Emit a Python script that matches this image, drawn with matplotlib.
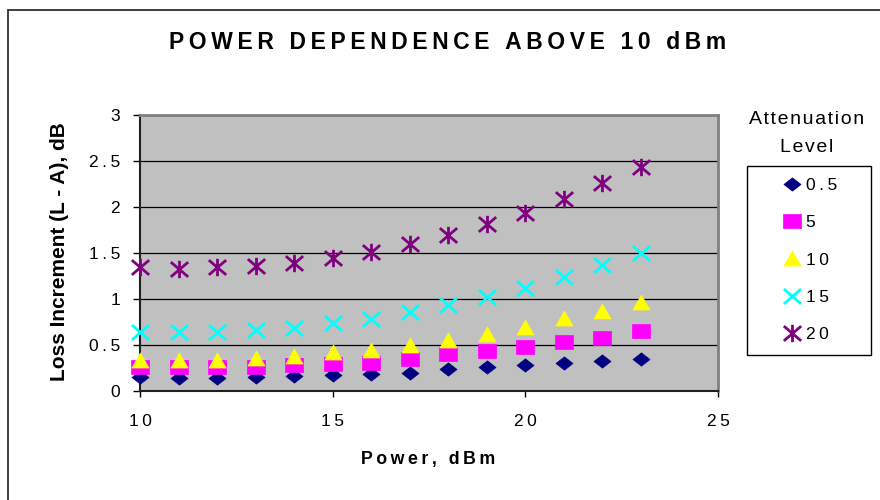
import matplotlib
matplotlib.use('Agg')
import matplotlib.pyplot as plt
from matplotlib.path import Path
from matplotlib.lines import Line2D
from matplotlib.patches import Rectangle
from matplotlib.ticker import FixedLocator, FixedFormatter

plt.rcParams['font.family'] = ['Liberation Sans', 'DejaVu Sans']

# ---------------- data ----------------
power = [10, 11, 12, 13, 14, 15, 16, 17, 18, 19, 20, 21, 22, 23]
att_0_5 = [0.15, 0.145, 0.145, 0.155, 0.16, 0.175, 0.185, 0.20, 0.24, 0.26, 0.28, 0.30, 0.33, 0.35]
att_5 = [0.26, 0.26, 0.26, 0.26, 0.28, 0.29, 0.30, 0.35, 0.40, 0.44, 0.48, 0.53, 0.58, 0.65]
att_10 = [0.34, 0.34, 0.34, 0.355, 0.38, 0.42, 0.445, 0.50, 0.555, 0.625, 0.70, 0.79, 0.875, 0.97]
att_15 = [0.645, 0.64, 0.645, 0.66, 0.69, 0.735, 0.78, 0.855, 0.93, 1.02, 1.12, 1.24, 1.37, 1.50]
att_20 = [1.345, 1.33, 1.345, 1.36, 1.395, 1.45, 1.51, 1.60, 1.70, 1.81, 1.94, 2.09, 2.26, 2.44]
series_labels = ['0.5', '5', '10', '15', '20']

x_ticks = [10, 15, 20, 25]
x_tick_labels = ['10', '15', '20', '25']
y_ticks = [0, 0.5, 1, 1.5, 2, 2.5, 3]
y_tick_labels = ['0', '0.5', '1', '1.5', '2', '2.5', '3']

title = 'POWER DEPENDENCE ABOVE 10 dBm'
xlabel = 'Power, dBm'
ylabel = 'Loss Increment (L - A), dB'
legend_title = ['Attenuation', 'Level']

# ---------------- helpers ----------------
THIN = '\u2009'
HAIR = '\u200a'


def track(s, sep=THIN):
    return sep.join(s)


def closed(verts):
    return Path(verts + [verts[0]], [Path.MOVETO] + [Path.LINETO] * (len(verts) - 1) + [Path.CLOSEPOLY])


diamond = closed([(0, 0.78), (1, 0), (0, -0.78), (-1, 0)])
square = closed([(-1, -0.82), (1, -0.82), (1, 0.82), (-1, 0.82)])
triangle = closed([(0, 0.88), (1, -0.88), (-1, -0.88)])
xmark = Path([(-1, -0.88), (1, 0.88), (-1, 0.88), (1, -0.88)],
             [Path.MOVETO, Path.LINETO, Path.MOVETO, Path.LINETO])
star = Path([(-1, -0.85), (1, 0.85), (-1, 0.85), (1, -0.85), (0, -1.0), (0, 1.0)],
            [Path.MOVETO, Path.LINETO, Path.MOVETO, Path.LINETO, Path.MOVETO, Path.LINETO])

styles = [
    dict(marker=diamond, color='#000080', mfc='#000080', mec='#000080', ms=12.3, mew=0.5),
    dict(marker=square, color='#FF00FF', mfc='#FF00FF', mec='#FF00FF', ms=12.3, mew=0.5),
    dict(marker=triangle, color='#FFFF00', mfc='#FFFF00', mec='#FFFF00', ms=12.3, mew=0.5),
    dict(marker=xmark, color='#00FFFF', mfc='none', mec='#00FFFF', ms=12.3, mew=2.0),
    dict(marker=star, color='#800080', mfc='none', mec='#800080', ms=12.5, mew=2.0),
]
all_series = [att_0_5, att_5, att_10, att_15, att_20]

# ---------------- figure ----------------
W, H = 880, 500
fig = plt.figure(figsize=(W / 100, H / 100), dpi=100)
fig.patch.set_facecolor('white')

# outer chart border (left and top visible)
fig.add_artist(Rectangle((8 / W, -0.1), 1.2, (H - 10) / H + 0.1, transform=fig.transFigure,
                         fill=False, ec='#303030', lw=1.3))

ax = fig.add_axes([140 / W, 109 / H, 578 / W, 276 / H])
ax.set_facecolor('#C0C0C0')
ax.set_xlim(10, 25)
ax.set_ylim(0, 3)
ax.yaxis.grid(True, color='black', lw=0.9)
ax.set_axisbelow(True)

for vals, st in zip(all_series, styles):
    ax.plot(power, vals, linestyle='none', clip_on=False, zorder=3, **st)

for side in ['top', 'right']:
    ax.spines[side].set_color('#808080')
    ax.spines[side].set_linewidth(2.0)
for side in ['left', 'bottom']:
    ax.spines[side].set_color('#202020')
    ax.spines[side].set_linewidth(1.5)

ax.xaxis.set_major_locator(FixedLocator(x_ticks))
ax.xaxis.set_major_formatter(FixedFormatter([track(t) for t in x_tick_labels]))
ax.yaxis.set_major_locator(FixedLocator(y_ticks))
ax.yaxis.set_major_formatter(FixedFormatter([track(t) for t in y_tick_labels]))
ax.tick_params(axis='x', direction='out', length=4.5, width=1, color='black', pad=12, labelsize=12.5)
ax.tick_params(axis='y', direction='out', length=5, width=1, color='black', pad=9.4, labelsize=12.5)

ax.set_xlabel(track(xlabel), fontsize=12.8, fontweight='bold', va='top')
ax.xaxis.set_label_coords(0.498, -0.2174)
ax.set_ylabel(ylabel, fontsize=15, fontweight='bold')
ax.yaxis.set_label_coords(-0.122, 0.505)

fig.text(447.5 / W, (H - 49.3) / H, track(title), ha='center', va='baseline',
         fontsize=16.5, fontweight='bold')

# legend title (outside the box)
fig.text(806.7 / W, (H - 124) / H, track(legend_title[0], HAIR), ha='center', va='baseline', fontsize=14)
fig.text(806.7 / W, (H - 151.7) / H, track(legend_title[1], HAIR), ha='center', va='baseline', fontsize=14)

# legend box
fig.add_artist(Rectangle((747 / W, (H - 355) / H), (871 - 747) / W, (355 - 166) / H,
                         transform=fig.transFigure, fc='white', ec='black', lw=1.0, zorder=1))

handles = [Line2D([], [], linestyle='none', **st) for st in styles]
leg = fig.legend(handles, [track(s) for s in series_labels], loc='center left',
                 bbox_to_anchor=(783.3 / W, (H - 260) / H), frameon=False,
                 fontsize=12.5, handlelength=1.0, handletextpad=0.29,
                 labelspacing=1.27, borderpad=0.0, borderaxespad=0.0)
leg.set_zorder(2)

fig.savefig('out.png', dpi=100)
